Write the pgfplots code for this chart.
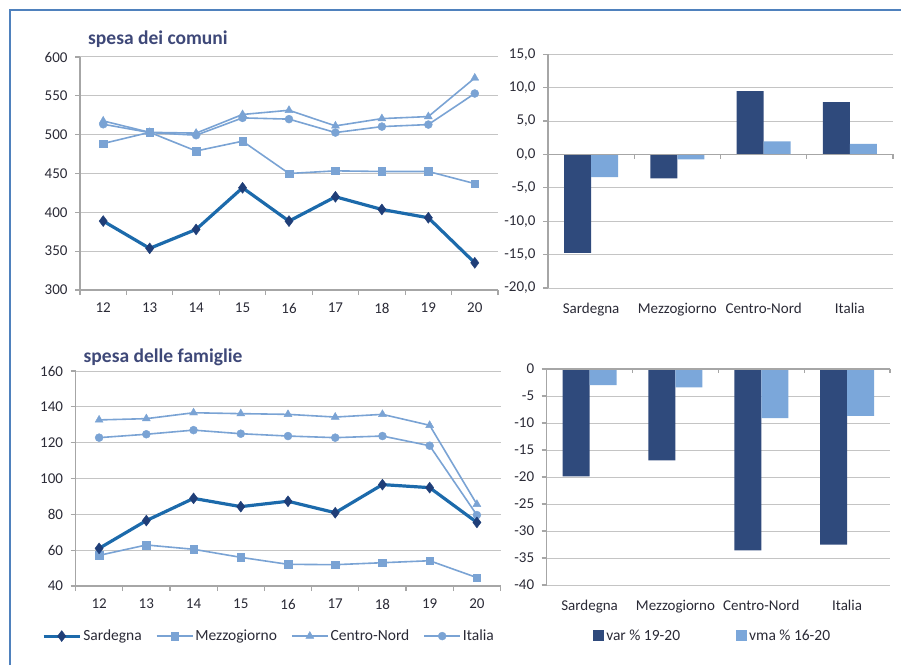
\documentclass[border=0pt]{standalone}
\usepackage{pgfplots}
\pgfplotsset{compat=1.18}
\usepackage{pgfplotstable}
\usepackage{fontspec}
\setmainfont{Carlito}
\definecolor{sardline}{HTML}{1C6AAB}
\definecolor{sardmark}{HTML}{1F3E78}
\definecolor{lightblue}{HTML}{7AA3D4}
\definecolor{bardark}{HTML}{2F4A7C}
\definecolor{barlight}{HTML}{7BA7DA}
\definecolor{gridgray}{HTML}{C4C4C4}
\definecolor{axisgray}{HTML}{A6A6A6}
\definecolor{txt}{HTML}{2A2A36}
\definecolor{titlec}{HTML}{3E4878}
\definecolor{framec}{HTML}{4F81BD}

\pgfplotstableread{
x sard mezz cn ita
12 388.7 488.6 517.7 513.4
13 353.6 503.0 503.0 502.7
14 378.0 479.0 502.0 499.3
15 431.6 491.6 526.0 521.6
16 388.7 450.0 531.4 520.0
17 420.0 453.4 511.3 502.7
18 403.7 452.6 520.7 510.4
19 393.0 452.6 523.3 513.0
20 335.0 437.0 573.0 553.0
}\comuni
\pgfplotstableread{
x sard mezz cn ita
12 61.0 57.1 132.7 122.8
13 76.5 62.9 133.4 124.7
14 88.9 60.5 136.7 127.0
15 84.3 56.0 136.2 125.0
16 87.3 52.1 135.8 123.7
17 80.9 51.9 134.3 122.8
18 96.6 53.0 135.8 123.7
19 94.9 54.1 129.7 118.3
20 75.5 44.7 85.6 79.6
}\famiglie
\pgfplotstableread{
x var vma
0 -14.75 -3.40
1 -3.60 -0.75
2 9.50 1.95
3 7.85 1.60
}\barstop
\pgfplotstableread{
x var vma
0 -19.9 -3.0
1 -16.9 -3.4
2 -33.6 -9.1
3 -32.5 -8.7
}\barsbot

\pgfplotsset{
  common/.style={
    scale only axis, anchor=south west,
    axis y line*=left, axis x line*=bottom,
    axis line style={draw=axisgray, line width=1.4pt, -},
    ymajorgrids, grid style={draw=gridgray, line width=1pt},
    tick style={draw=axisgray, line width=1.2pt},
    tick align=outside,
    major tick length=5pt, minor tick length=5pt,
    ticklabel style={font=\fontsize{15}{15}\selectfont, text=txt},
    yticklabel style={xshift=-4pt},
    /pgf/number format/assume math mode=true,
    clip=false,
  },
  linechart/.style={
    common,
    xmin=11.5, xmax=20.5,
    xtick={12,...,20},
    minor xtick={11.5,12.5,...,20.5},
    major x tick style={draw=none},
    minor x tick style={draw=axisgray, line width=1.2pt},
    xticklabel style={yshift=-4.5pt},
    legend image code/.code={\draw[##1,mark repeat=2,mark phase=2] plot coordinates {(0pt,0pt) (18pt,0pt) (36pt,0pt)};},
  },
  sard/.style={line width=3.2pt, color=sardline, mark=diamond*, mark size=5.5pt,
    mark options={fill=sardmark, draw=sardmark, line width=0.4pt, solid}},
  mezz/.style={line width=1.6pt, color=lightblue, mark=square*, mark size=3.8pt,
    mark options={fill=lightblue, draw=lightblue, line width=0.4pt}},
  cn/.style={line width=1.6pt, color=lightblue, mark=triangle*, mark size=4.6pt,
    mark options={fill=lightblue, draw=lightblue, line width=0.4pt}},
  ita/.style={line width=1.6pt, color=lightblue, mark=*, mark size=4pt,
    mark options={fill=lightblue, draw=lightblue, line width=0.4pt}},
  barchart/.style={
    common,
    ybar=0pt, bar width=27pt,
    xmin=-0.5, xmax=3.5,
    xtick={0,1,2,3},
    xticklabels={Sardegna,Mezzogiorno,Centro-Nord,Italia},
    major x tick style={draw=none},
    x axis line style={draw=none},
    xticklabel style={yshift=-6.5pt},
    legend image code/.code={\fill[##1,draw=none] (0pt,-5.5pt) rectangle (11pt,5.5pt);},
  },
}

\begin{document}
\begin{tikzpicture}[x=1pt,y=1pt]
\path[use as bounding box] (0,0) rectangle (901,665);
\draw[framec, line width=2pt] (10,0) -- (10,655) -- (901,655);

% top-left: spesa dei comuni
\begin{axis}[linechart, at={(80pt,375pt)}, width=418pt, height=233pt,
  ymin=300, ymax=600, ytick={300,350,...,600}]
\addplot[sard] table[x=x,y=sard] {\comuni};
\addplot[mezz] table[x=x,y=mezz] {\comuni};
\addplot[cn] table[x=x,y=cn] {\comuni};
\addplot[ita] table[x=x,y=ita] {\comuni};
\end{axis}
\node[anchor=base west, inner sep=0pt, font=\bfseries\fontsize{19.5}{19.5}\selectfont, text=titlec] at (88,620) {spesa dei comuni};

% bottom-left: spesa delle famiglie
\begin{axis}[linechart, at={(75.5pt,79pt)}, width=425pt, height=215pt,
  ymin=40, ymax=160, ytick={40,60,...,160},
  legend style={draw=none, fill=none, inner sep=0pt,
    at={(axis description cs:-0.079,-0.233)}, anchor=west,
    font=\fontsize{15.5}{15.5}\selectfont, text=txt,
    legend columns=4, /tikz/every even column/.append style={column sep=12pt}},
  legend cell align=left]
\addlegendimage{sard}\addlegendentry{Sardegna}
\addlegendimage{mezz}\addlegendentry{Mezzogiorno}
\addlegendimage{cn}\addlegendentry{Centro-Nord}
\addlegendimage{ita}\addlegendentry{Italia}
\addplot[mezz, forget plot] table[x=x,y=mezz] {\famiglie};
\addplot[cn, forget plot] table[x=x,y=cn] {\famiglie};
\addplot[ita, forget plot] table[x=x,y=ita] {\famiglie};
\addplot[sard, forget plot] table[x=x,y=sard] {\famiglie};
\end{axis}
\node[anchor=base west, inner sep=0pt, font=\bfseries\fontsize{19.5}{19.5}\selectfont, text=titlec] at (83.5,303) {spesa delle famiglie};

% top-right bars
\begin{axis}[barchart, at={(548pt,377pt)}, width=345pt, height=233.7pt,
  ymin=-20, ymax=15, ytick={-20,-15,...,15},
  yticklabel style={/pgf/number format/.cd, fixed, fixed zerofill, precision=1, use comma}]
\addplot[fill=bardark, draw=none] table[x=x,y=var] {\barstop};
\addplot[fill=barlight, draw=none] table[x=x,y=vma] {\barstop};
\draw[axisgray, line width=1.4pt] (axis cs:-0.5,0) -- (axis cs:3.5,0);
\draw[axisgray, line width=1.2pt] (axis cs:0.5,0) -- ([yshift=-5pt]axis cs:0.5,0);
\draw[axisgray, line width=1.2pt] (axis cs:1.5,0) -- ([yshift=-5pt]axis cs:1.5,0);
\draw[axisgray, line width=1.2pt] (axis cs:2.5,0) -- ([yshift=-5pt]axis cs:2.5,0);
\draw[axisgray, line width=1.2pt] (axis cs:3.5,0) -- ([yshift=-5pt]axis cs:3.5,0);
\end{axis}

% bottom-right bars
\begin{axis}[barchart, at={(546.7pt,80pt)}, width=343.3pt, height=216pt,
  ymin=-40, ymax=0, ytick={-40,-35,...,0},
  legend style={draw=none, fill=none, inner sep=0pt,
    at={(axis description cs:0.135,-0.236)}, anchor=west,
    font=\fontsize{15.5}{15.5}\selectfont, text=txt,
    legend columns=2, /tikz/every even column/.append style={column sep=54pt}},
  legend cell align=left]
\addplot[fill=bardark, draw=none] table[x=x,y=var] {\barsbot};
\addlegendentry{var \% 19-20}
\addplot[fill=barlight, draw=none] table[x=x,y=vma] {\barsbot};
\addlegendentry{vma \% 16-20}
\draw[axisgray, line width=1.4pt] (axis cs:-0.5,0) -- (axis cs:3.5,0);
\draw[axisgray, line width=1.2pt] (axis cs:0.5,0) -- ([yshift=-4pt]axis cs:0.5,0);
\draw[axisgray, line width=1.2pt] (axis cs:1.5,0) -- ([yshift=-4pt]axis cs:1.5,0);
\draw[axisgray, line width=1.2pt] (axis cs:2.5,0) -- ([yshift=-4pt]axis cs:2.5,0);
\draw[axisgray, line width=1.2pt] (axis cs:3.5,0) -- ([yshift=-4pt]axis cs:3.5,0);
\end{axis}
\end{tikzpicture}
\end{document}
